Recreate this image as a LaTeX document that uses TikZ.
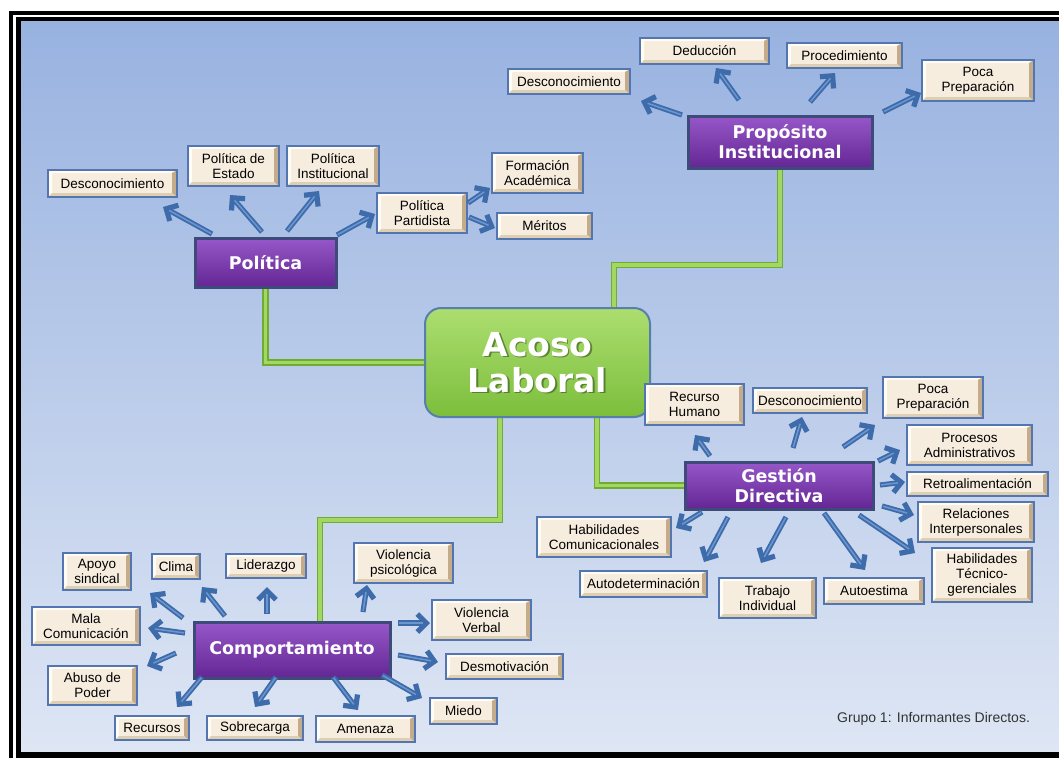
\documentclass[tikz,border=0pt]{standalone}
\usepackage{fontspec}
\setmainfont{Liberation Sans}
\newfontfamily\headfont{DejaVu Sans}
\usetikzlibrary{arrows.meta,calc,backgrounds}

\definecolor{bgTop}{RGB}{152,178,224}
\definecolor{bgBot}{RGB}{222,230,244}
\definecolor{boxBlue}{RGB}{84,118,176}
\definecolor{cream}{RGB}{246,237,222}
\definecolor{bevDark}{RGB}{196,172,138}
\definecolor{bevMid}{RGB}{222,206,178}
\definecolor{bevLight}{RGB}{255,252,245}
\definecolor{purTop}{RGB}{150,88,200}
\definecolor{purBot}{RGB}{100,38,148}
\definecolor{purEdge}{RGB}{62,74,122}
\definecolor{grnTop}{RGB}{172,222,112}
\definecolor{grnBot}{RGB}{124,190,60}
\definecolor{grnEdge}{RGB}{88,126,172}
\definecolor{lineDark}{RGB}{112,172,52}
\definecolor{lineLight}{RGB}{162,216,98}
\definecolor{arrDark}{RGB}{62,108,170}
\definecolor{arrLight}{RGB}{108,150,208}
\definecolor{shadeGreen}{RGB}{70,100,40}

\tikzset{
  leaf/.style={draw=boxBlue, line width=1.2pt, fill=cream, inner sep=0pt, align=center,
    font=\fontsize{13.5}{15}\selectfont, text=black,
    path picture={
      \coordinate (ppA) at (path picture bounding box.south west);
      \coordinate (ppB) at (path picture bounding box.north east);
      \fill[bevLight] (ppA) -- (ppA |- ppB) -- (ppB) -- ([shift={(-5pt,-3pt)}]ppB)
        -- ([shift={(4pt,-3pt)}]ppA |- ppB) -- ([shift={(4pt,4pt)}]ppA) -- cycle;
      \fill[bevDark] (ppB) -- (ppB |- ppA) -- ([shift={(-5pt,4pt)}]ppB |- ppA)
        -- ([shift={(-5pt,-3pt)}]ppB) -- cycle;
      \fill[bevMid] (ppA) -- (ppB |- ppA) -- ([shift={(-5pt,4pt)}]ppB |- ppA)
        -- ([shift={(4pt,4pt)}]ppA) -- cycle;
    }},
  hub/.style={draw=purEdge, line width=3pt, top color=purTop, bottom color=purBot,
    text=white, align=center, inner sep=0pt,
    font=\headfont\bfseries\fontsize{17.5}{20}\selectfont},
  core/.style={draw=grnEdge, line width=2pt, rounded corners=16pt,
    top color=grnTop, bottom color=grnBot, inner sep=0pt},
  coretext/.style={align=center, font=\headfont\bfseries\fontsize{33}{36}\selectfont},
  trunk/.style={draw=lineDark, double=lineLight, double distance=3.8pt, line width=1.3pt},
  fat arrow/.style={draw=arrDark, line width=5.2pt, -{Straight Barb[length=9pt,width=18pt]}},
  fat arrow hi/.style={draw=arrLight, line width=1.5pt, shorten <=1pt, shorten >=7pt},
}

% box placed by its corners: [style]{name}{x1}{y1}{x2}{y2}{text}
\newcommand\placebox[7][leaf]{%
  \pgfmathsetmacro\pbw{#5-#3}\pgfmathsetmacro\pbh{#6-#4}%
  \node[#1, minimum width=\pbw pt, minimum height=\pbh pt] (#2) at ({(#3+#5)/2},{(#4+#6)/2}) {#7};}

% thick blue arrow between two named points: {name}{tail}{head}
\newcommand\linkarrow[3]{%
  \coordinate (#1-t) at (#2);
  \coordinate (#1-h) at (#3);
  \draw[fat arrow] (#1-t) -- (#1-h);
  \draw[fat arrow hi] (#1-t) -- (#1-h);}

\begin{document}
\begin{tikzpicture}[x=1pt,y=-1pt]
\useasboundingbox (0,0) rectangle (1059,758);

\begin{scope}[on background layer]
  \fill[white] (0,0) rectangle (1059,758);
  \fill[black] (9,11) rectangle (1059,758);
  \fill[white] (13,15) rectangle (1059,758);
  \fill[black] (16,17) rectangle (1059,758);
  \shade[top color=bgTop, bottom color=bgBot] (21,21) rectangle (1059,751);
\end{scope}

% central topic
\placebox[core]{acoso}{425}{308}{650}{417}{}
\node[coretext, text=shadeGreen, opacity=0.7] (acosoShade) at ([shift={(1.6pt,-1.6pt)}]acoso.center) {Acoso\\Laboral};
\node[coretext, text=white] (acosoText) at (acoso.center) {Acoso\\Laboral};

% main branches
\placebox[hub]{pol}{195}{238}{336}{287}{Política}
\placebox[hub]{prop}{688}{116}{872}{168}{Propósito\\Institucional}
\placebox[hub]{gest}{685}{462}{873}{509}{Gestión\\Directiva}
\placebox[hub]{comp}{194}{622}{390}{678}{Comportamiento}

% green trunks
\coordinate (jP) at (614,265);
\coordinate (jG) at (597,488);
\coordinate (jC) at (500,520);
\coordinate (jC2) at (320,520);
\begin{scope}[on background layer]
  \draw[trunk] (pol.south) |- (acoso.west);
  \draw[trunk] (prop.south) |- (jP) -- (jP |- acoso.north);
  \draw[trunk] (jG |- acoso.south) |- (gest.west);
  \draw[trunk] (jC |- acoso.south) -- (jC) -- (jC2) -- (jC2 |- comp.north);
\end{scope}

% Política
\placebox{pDesc}{48}{170}{177}{197}{Desconocimiento}
\placebox{pEst}{188}{146}{279}{186}{Política de\\Estado}
\placebox{pInst}{287}{146}{379}{186}{Política\\Institucional}
\placebox{pPart}{377}{193}{467}{233}{Política\\Partidista}
\placebox{pForm}{492}{153}{583}{193}{Formación\\Académica}
\placebox{pMer}{497}{213}{592}{239}{Méritos}
\linkarrow{p1}{212,234}{163,207}
\linkarrow{p2}{262,232}{230,195}
\linkarrow{p3}{287,231}{319,191}
\linkarrow{p4}{337,235}{375,214}
\linkarrow{p5}{468,203}{490,188}
\linkarrow{p6}{469,217}{495,228}

% Propósito Institucional
\placebox{iDesc}{508}{69}{630}{94}{Desconocimiento}
\placebox{iDed}{640}{38}{769}{64}{Deducción}
\placebox{iProc}{787}{43}{902}{68}{Procedimiento}
\placebox{iPoca}{922}{60}{1034}{101}{Poca\\Preparación}
\linkarrow{q1}{682,115}{641,101}
\linkarrow{q2}{739,100}{716,68}
\linkarrow{q3}{810,102}{835,73}
\linkarrow{q4}{883,112}{921,93}

% Gestión Directiva
\placebox{gRec}{645}{384}{744}{425}{Recurso\\Humano}
\placebox{gDesc}{753}{388}{867}{413}{Desconocimiento}
\placebox{gPoca}{883}{377}{983}{418}{Poca\\Preparación}
\placebox{gProc}{907}{425}{1032}{465}{Procesos\\Administrativos}
\placebox{gRetro}{907}{472}{1048}{496}{Retroalimentación}
\placebox{gRel}{918}{502}{1034}{542}{Relaciones\\Interpersonales}
\placebox{gTec}{932}{548}{1032}{602}{Habilidades\\Técnico-\\gerenciales}
\placebox{gAuto}{824}{578}{924}{604}{Autoestima}
\placebox{gTrab}{719}{578}{816}{618}{Trabajo\\Individual}
\placebox{gDet}{580}{571}{707}{597}{Autodeterminación}
\placebox{gHab}{537}{517}{671}{557}{Habilidades\\Comunicacionales}
\linkarrow{g1}{710,456}{695,435}
\linkarrow{g2}{793,448}{802,417}
\linkarrow{g3}{843,447}{875,425}
\linkarrow{g4}{878,461}{900,450}
\linkarrow{g5}{880,485}{905,482}
\linkarrow{g6}{882,506}{914,515}
\linkarrow{g7}{859,515}{915,553}
\linkarrow{g8}{824,513}{865,570}
\linkarrow{g9}{786,517}{761,563}
\linkarrow{g10}{728,517}{704,562}
\linkarrow{g11}{702,512}{676,528}

% Comportamiento
\placebox{cApoyo}{63}{553}{131}{590}{Apoyo\\sindical}
\placebox{cClima}{152}{554}{200}{579}{Clima}
\placebox{cLid}{226}{554}{306}{578}{Liderazgo}
\placebox{cMala}{32}{607}{140}{645}{Mala\\Comunicación}
\placebox{cAbuso}{48}{666}{137}{705}{Abuso de\\Poder}
\placebox{cRec}{115}{716}{189}{740}{Recursos}
\placebox{cSob}{207}{716}{303}{740}{Sobrecarga}
\placebox{cAmen}{316}{716}{415}{742}{Amenaza}
\placebox{cMiedo}{430}{698}{497}{724}{Miedo}
\placebox{cDesm}{446}{654}{563}{679}{Desmotivación}
\placebox{cVerb}{432}{600}{531}{640}{Violencia\\Verbal}
\placebox{cPsi}{354}{543}{453}{583}{Violencia\\psicológica}
\linkarrow{c1}{183,618}{150,593}
\linkarrow{c2}{225,616}{202,587}
\linkarrow{c3}{267,614}{267,587}
\linkarrow{c4}{185,633}{148,628}
\linkarrow{c5}{176,653}{147,666}
\linkarrow{c6}{202,677}{177,707}
\linkarrow{c7}{276,677}{255,707}
\linkarrow{c8}{333,677}{358,710}
\linkarrow{c9}{382,675}{422,698}
\linkarrow{c10}{398,655}{438,662}
\linkarrow{c11}{398,623}{430,623}
\linkarrow{c12}{363,612}{367,585}

\node[anchor=base west, inner sep=0pt, font=\fontsize{14}{16}\selectfont, text=black!80] (caption) at (837,722) {Grupo 1: Informantes Directos.};
\end{tikzpicture}
\end{document}
